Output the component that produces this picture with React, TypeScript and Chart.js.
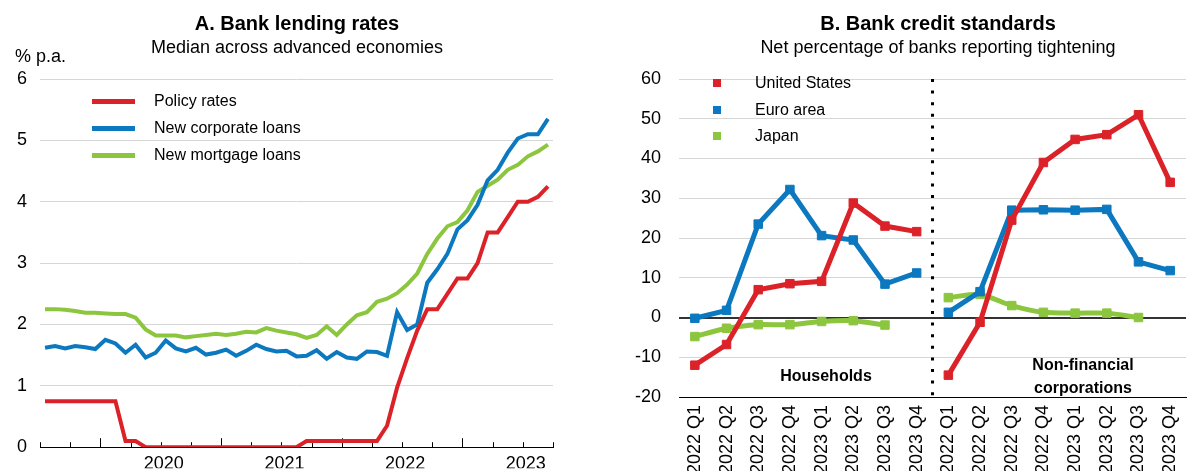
import React, { useEffect, useRef } from 'react';
import { Chart, registerables } from 'chart.js';
Chart.register(...registerables);

const FONT = '"Liberation Sans", Arial, Helvetica, sans-serif';
const RED = '#dc2229';
const BLUE = '#0b78bf';
const GREEN = '#8cc63f';

// ---------- Panel A: monthly, Jul 2019 – Sep 2023 (x = months since Jul 2019) ----------
const yearLabels = ['2020', '2021', '2022', '2023'];
const policyRates = [
  0.75, 0.75, 0.75, 0.75, 0.75, 0.75, 0.75, 0.75, 0.1, 0.1,
  0, 0, 0, 0, 0, 0, 0, 0, 0, 0,
  0, 0, 0, 0, 0, 0, 0.1, 0.1, 0.1, 0.1,
  0.1, 0.1, 0.1, 0.1, 0.35, 0.97, 1.45, 1.9, 2.25, 2.25,
  2.5, 2.75, 2.75, 3.0, 3.5, 3.5, 3.75, 4.0, 4.0, 4.08,
  4.25,
];
const corporateLoans = [
  1.62, 1.65, 1.61, 1.65, 1.63, 1.6, 1.75, 1.69, 1.54, 1.67,
  1.46, 1.54, 1.74, 1.61, 1.56, 1.62, 1.51, 1.54, 1.59, 1.49,
  1.57, 1.67, 1.6, 1.56, 1.57, 1.48, 1.49, 1.58, 1.44, 1.55,
  1.46, 1.44, 1.56, 1.55, 1.49, 2.2, 1.91, 2.0, 2.68, 2.9,
  3.15, 3.55, 3.7, 3.95, 4.35, 4.52, 4.8, 5.03, 5.1, 5.1,
  5.35,
];
const mortgageLoans = [
  2.25, 2.25, 2.24, 2.22, 2.19, 2.19, 2.18, 2.17, 2.17, 2.11,
  1.92, 1.82, 1.82, 1.82, 1.79, 1.81, 1.83, 1.85, 1.83, 1.85,
  1.88, 1.87, 1.94, 1.9, 1.87, 1.84, 1.78, 1.83, 1.97, 1.83,
  2.0, 2.15, 2.2, 2.37, 2.42, 2.51, 2.65, 2.83, 3.15, 3.4,
  3.6, 3.67, 3.86, 4.16, 4.26, 4.36, 4.52, 4.6, 4.74, 4.82,
  4.93,
];

// ---------- Panel B: quarterly survey ----------
const quarterLabels = [
  '2022 Q1', '2022 Q2', '2022 Q3', '2022 Q4', '2023 Q1', '2023 Q2', '2023 Q3', '2023 Q4',
  '2022 Q1', '2022 Q2', '2022 Q3', '2022 Q4', '2023 Q1', '2023 Q2', '2023 Q3', '2023 Q4',
];
const unitedStates = [-12, -6.8, 7, 8.5, 9.1, 28.8, 23, 21.6, -14.5, -1.2, 24.5, 39, 44.8, 46, 51, 34];
const euroArea = [-0.2, 1.8, 23.5, 32.2, 20.6, 19.5, 8.4, 11.2, 1.3, 6.5, 27, 27.1, 27, 27.2, 14, 11.8];
const japan = [-4.8, -2.7, -1.8, -1.8, -1.0, -0.8, -1.9, null, 5, 5.8, 3, 1.3, 1.1, 1.1, 0, null];

const toPoints = (arr: number[]) => arr.map((v, i) => ({ x: i + 0.5, y: v }));

function PanelA() {
  const ref = useRef<HTMLCanvasElement>(null);
  useEffect(() => {
    const quarterTicks = {
      id: 'quarterTicks',
      beforeDatasetsDraw(chart: any) {
        const { ctx, scales } = chart;
        const sx = scales.x;
        const base = scales.y.getPixelForValue(0);
        ctx.save();
        ctx.strokeStyle = '#000';
        ctx.lineWidth = 1;
        for (let m = sx.min; m <= sx.max; m += 3) {
          const px = Math.round(sx.getPixelForValue(m)) + 0.5;
          const len = m % 12 === 6 ? 9 : 5;
          ctx.beginPath();
          ctx.moveTo(px, base);
          ctx.lineTo(px, base - len);
          ctx.stroke();
        }
        ctx.restore();
      },
    };
    const line = (data: number[], color: string) => ({
      data: toPoints(data),
      borderColor: color,
      backgroundColor: color,
      borderWidth: 4,
      pointRadius: 0,
      tension: 0,
    });
    const chart = new Chart(ref.current as HTMLCanvasElement, {
      type: 'line',
      data: {
        datasets: [line(policyRates, RED), line(corporateLoans, BLUE), line(mortgageLoans, GREEN)],
      },
      options: {
        animation: false,
        responsive: false,
        maintainAspectRatio: false,
        layout: { padding: { top: 79, right: 47, left: 0, bottom: 0 } },
        plugins: { legend: { display: false }, tooltip: { enabled: false } },
        scales: {
          x: {
            type: 'linear',
            min: 0,
            max: 51,
            afterBuildTicks: (s: any) => {
              s.ticks = yearLabels.map((_, k) => ({ value: (k + 1) * 12 + 0.3 }));
            },
            ticks: {
              callback: (v: any) => yearLabels[Math.round(v / 12) - 1] ?? '',
              font: { family: FONT, size: 18 },
              color: '#000',
              padding: 6,
              maxRotation: 0,
              autoSkip: false,
            },
            grid: { display: false, drawTicks: false },
            border: { display: true, color: '#000', width: 1 },
            afterFit: (s: any) => { s.height = 21; },
          },
          y: {
            min: 0,
            max: 6,
            ticks: { stepSize: 1, font: { family: FONT, size: 18 }, color: '#000', padding: 13 },
            grid: {
              drawTicks: false,
              color: (c: any) => (c.tick && c.tick.value === 0 ? 'rgba(0,0,0,0)' : '#d6d6d6'),
              lineWidth: 1,
            },
            border: { display: false },
            afterFit: (s: any) => { s.width = 40; },
          },
        },
      },
      plugins: [quarterTicks],
    } as any);
    return () => chart.destroy();
  }, []);
  return <canvas ref={ref} width={600} height={471} style={{ position: 'absolute', left: 0, top: 0, width: 600, height: 471 }} />;
}

function PanelB() {
  const ref = useRef<HTMLCanvasElement>(null);
  useEffect(() => {
    const divider = {
      id: 'divider',
      beforeDatasetsDraw(chart: any) {
        const { ctx, chartArea, scales } = chart;
        const x = (scales.x.getPixelForValue(7) + scales.x.getPixelForValue(8)) / 2;
        ctx.save();
        ctx.setLineDash([3, 8.6]);
        ctx.lineWidth = 3;
        ctx.strokeStyle = '#000';
        ctx.beginPath();
        ctx.moveTo(x, chartArea.top);
        ctx.lineTo(x, chartArea.bottom);
        ctx.stroke();
        ctx.restore();
      },
    };
    const series = (label: string, data: (number | null)[], color: string, tension = 0) => ({
      label,
      data,
      borderColor: color,
      backgroundColor: color,
      borderWidth: 5,
      pointStyle: 'rect',
      pointRadius: 6,
      pointBorderWidth: 1,
      pointBackgroundColor: color,
      pointBorderColor: color,
      spanGaps: false,
      tension,
      segment: { borderColor: (c: any) => (c.p0DataIndex === 7 ? 'rgba(0,0,0,0)' : undefined) },
    });
    const chart = new Chart(ref.current as HTMLCanvasElement, {
      type: 'line',
      data: {
        labels: quarterLabels,
        datasets: [
          series('United States', unitedStates, RED),
          series('Euro area', euroArea, BLUE),
          series('Japan', japan, GREEN, 0.25),
        ],
      },
      options: {
        animation: false,
        responsive: false,
        maintainAspectRatio: false,
        layout: { padding: { top: 79, right: 4, left: 0, bottom: 0 } },
        plugins: { legend: { display: false }, tooltip: { enabled: false } },
        scales: {
          x: {
            type: 'category',
            offset: true,
            ticks: {
              font: { family: FONT, size: 18 },
              color: '#000',
              minRotation: 90,
              maxRotation: 90,
              autoSkip: false,
              padding: 8,
            },
            grid: { display: false, drawTicks: false },
            border: { display: true, color: '#000', width: 1 },
            afterFit: (s: any) => { s.height = 74; },
          },
          y: {
            min: -20,
            max: 60,
            ticks: { stepSize: 10, font: { family: FONT, size: 18 }, color: '#000', padding: 18 },
            grid: {
              drawTicks: false,
              color: (c: any) => (c.tick && c.tick.value === 0 ? '#333' : '#d6d6d6'),
              lineWidth: (c: any) => (c.tick && c.tick.value === 0 ? 2 : 1),
            },
            border: { display: false },
            afterFit: (s: any) => { s.width = 79; },
          },
        },
      },
      plugins: [divider],
    } as any);
    return () => chart.destroy();
  }, []);
  return <canvas ref={ref} width={600} height={471} style={{ position: 'absolute', left: 600, top: 0, width: 600, height: 471 }} />;
}

const Txt = ({ x, y, size, bold, align = 'center', children }: any) => (
  <div
    style={{
      position: 'absolute',
      left: x,
      top: y,
      transform: align === 'center' ? 'translate(-50%, -50%)' : 'translate(0, -50%)',
      fontSize: size,
      fontWeight: bold ? 700 : 400,
      lineHeight: `${size}px`,
      whiteSpace: 'nowrap',
      color: '#000',
      textAlign: 'center',
    }}
  >
    {children}
  </div>
);

const LineSwatch = ({ x, y, color }: any) => (
  <div style={{ position: 'absolute', left: x, top: y - 2.5, width: 43, height: 5, background: color }} />
);
const SquareSwatch = ({ x, y, color }: any) => (
  <div style={{ position: 'absolute', left: x, top: y - 4, width: 8, height: 8, background: color }} />
);

export default function App() {
  return (
    <div
      style={{
        position: 'fixed',
        left: 0,
        top: 0,
        width: 1187,
        height: 471,
        overflow: 'hidden',
        background: '#fff',
        fontFamily: FONT,
      }}
    >
      <PanelA />
      <PanelB />

      <Txt x={297} y={23} size={20} bold>A. Bank lending rates</Txt>
      <Txt x={297} y={47} size={18}>Median across advanced economies</Txt>
      <Txt x={15} y={56} size={18} align="left">% p.a.</Txt>

      <LineSwatch x={92} y={101} color={RED} />
      <LineSwatch x={92} y={128} color={BLUE} />
      <LineSwatch x={92} y={155} color={GREEN} />
      <Txt x={154} y={101} size={16} align="left">Policy rates</Txt>
      <Txt x={154} y={128} size={16} align="left">New corporate loans</Txt>
      <Txt x={154} y={155} size={16} align="left">New mortgage loans</Txt>

      <Txt x={938} y={23} size={20} bold>B. Bank credit standards</Txt>
      <Txt x={938} y={47} size={18}>Net percentage of banks reporting tightening</Txt>

      <SquareSwatch x={713} y={83} color={RED} />
      <SquareSwatch x={713} y={110} color={BLUE} />
      <SquareSwatch x={713} y={136} color={GREEN} />
      <Txt x={755} y={83} size={16} align="left">United States</Txt>
      <Txt x={755} y={110} size={16} align="left">Euro area</Txt>
      <Txt x={755} y={136} size={16} align="left">Japan</Txt>

      <Txt x={826} y={376} size={16} bold>Households</Txt>
      <Txt x={1083} y={376} size={16} bold>
        <div style={{ lineHeight: '23px' }}>
          Non-financial
          <br />
          corporations
        </div>
      </Txt>
    </div>
  );
}
